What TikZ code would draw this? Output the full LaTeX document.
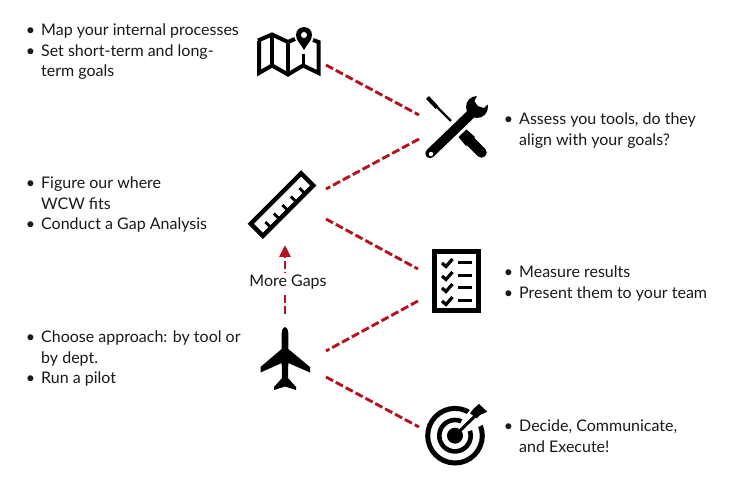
\documentclass[tikz,border=0pt]{standalone}
\usepackage{fontspec}
\setmainfont{Lato}
\usetikzlibrary{arrows.meta}
\definecolor{linkred}{HTML}{B5121F}
\newcommand{\bul}{\leavevmode\llap{\textbullet\hspace{6pt}}}
\tikzset{
  x=1pt,y=-1pt,
  note/.style={anchor=north west,inner sep=0pt,align=left,font=\fontsize{16}{20.4}\selectfont,text=black!90},
  link/.style={draw=linkred,line width=2.9pt,dash pattern=on 8pt off 3.2pt},
  icon/.style={line join=miter,black},
}
\begin{document}
\begin{tikzpicture}
\useasboundingbox (0,0) rectangle (740,486);
\fill[white] (0,0) rectangle (740,486);

% link end points beside each icon
\coordinate (mapOut) at (326,65);
\coordinate (toolsInA) at (419,115);
\coordinate (toolsInB) at (419,139);
\coordinate (rulerOutA) at (326,189);
\coordinate (rulerOutB) at (326,219);
\coordinate (listInA) at (418,269);
\coordinate (listInB) at (418,301);
\coordinate (planeOutA) at (326,351);
\coordinate (planeOutB) at (326,377);
\coordinate (targetIn) at (419,427);
\coordinate (planeTop) at (285,314);
\coordinate (rulerFoot) at (285,245);

\draw[link] (mapOut) -- (toolsInA);
\draw[link] (toolsInB) -- (rulerOutA);
\draw[link] (rulerOutB) -- (listInA);
\draw[link] (listInB) -- (planeOutA);
\draw[link] (planeOutB) -- (targetIn);
\draw[link,-{Triangle[length=12pt,width=11pt,sep=0pt]}] (planeTop) -- (rulerFoot);
\node[fill=white,inner sep=2pt,font=\fontsize{16}{20}\selectfont,text=black!90] (gaps) at (288,282.5) {More Gaps};

% folded map with pin
\draw[icon,line width=4pt] (258,40.5) -- (272,34.5) -- (288,42) -- (295,39);
\draw[icon,line width=4pt] (313,40) -- (318.5,42) -- (318.5,73) -- (303,65.5) -- (288,74.5) -- (272,65.5) -- (259,73) -- (259,41);
\draw[icon,line width=3.6pt] (272,34.5) -- (272,65.5) (288,42) -- (288,74.5) (303.5,54) -- (303.5,65.5);
\fill[icon] (304,50) .. controls (301,44) and (296,41) .. (296,35) .. controls (296,24.5) and (312,24.5) .. (312,35) .. controls (312,41) and (307,44) .. (304,50) -- cycle;
\fill[white] (304,35) circle[radius=3];

% crossed screwdriver and wrench
\draw[line width=4pt] (427.5,97.5) -- (437,107.5);
\draw[line width=2.4pt] (436,106) -- (451,121);
\draw[line width=10.5pt,line cap=round] (481.5,152.5) -- (468,139);
\fill (458.5,137) -- (466.5,129.5) -- (475,137) -- (466,146) -- cycle;
\draw[line width=9.5pt,line cap=round] (430,153.5) -- (472,113);
\fill (477,107) circle[radius=11];
\fill[white] (431,154) circle[radius=2.2];
\fill[white] (478,94) -- (491,101) -- (484,108) -- (478,106) -- (474.5,101) -- cycle;

% measuring ruler
\begin{scope}[shift={(282,204.6)},rotate=45]
  \draw[line width=4.4pt] (-35.6,-8.6) rectangle (35.6,8.6);
  \foreach \t in {-24,-12,0,12,24}
    \draw[line width=2.8pt] (\t,8.6) -- (\t,0.5);
\end{scope}

% checklist
\draw[line width=4.6pt] (434.3,251.3) rectangle (478.7,310.7);
\foreach \r in {263,276,288,301}{
  \draw[line width=3.2pt] (442,\r) -- (446,\r+3.5) -- (452.5,\r-4);
  \draw[line width=3pt] (458,\r) -- (472,\r);
}

% airliner
\fill (285,327) .. controls (287,327) and (288.3,330) .. (288.3,333) -- (288.3,349) -- (310,367) -- (310,372.5) -- (288.3,363) -- (288,378) -- (296,387) -- (296,390) -- (285,386.5) -- (274,390) -- (274,387) -- (282,378) -- (281.7,363) -- (260.5,372.5) -- (260.5,367) -- (281.7,349) -- (281.7,333) .. controls (281.7,330) and (283,327) .. (285,327) -- cycle;

% target with dart
\draw[line width=5pt] (455,435.7) circle[radius=27.3];
\draw[line width=4.6pt] (455,435.7) circle[radius=15.7];
\fill[white] (455,435.7) -- (462,420) -- (478,400) -- (492,420) -- (472,430) -- cycle;
\fill (455,435.7) circle[radius=8];
\draw[line width=3pt] (455,435.7) -- (477,414);
\fill (479,404) -- (487.3,411.7) -- (480,415) -- (476.7,418.3) -- (470,413.3) -- (473.3,409) -- cycle;

% captions
\node[note] (noteMap) at (41,24) {\bul Map your internal processes\\\bul Set short-term and long-\\term goals};
\node[note] (noteTools) at (519,113) {\bul Assess you tools, do they\\align with your goals?};
\node[note] (noteRuler) at (41,177) {\bul Figure our where\\WCW fits\\\bul Conduct a Gap Analysis};
\node[note] (noteList) at (519,266) {\bul Measure results\\\bul Present them to your team};
\node[note] (notePlane) at (41,331) {\bul Choose approach: by tool or\\by dept.\\\bul Run a pilot};
\node[note] (noteTarget) at (519,420) {\bul Decide, Communicate,\\and Execute!};
\end{tikzpicture}
\end{document}
